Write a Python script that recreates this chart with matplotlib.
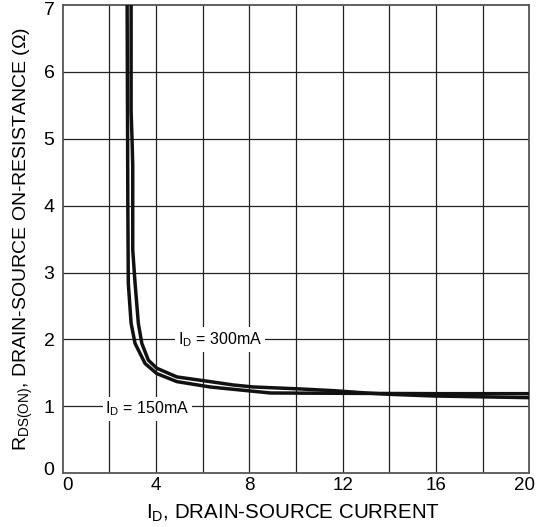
import matplotlib
matplotlib.use("Agg")
import matplotlib.pyplot as plt
from matplotlib.transforms import ScaledTranslation

plt.rcParams['font.family'] = ['Liberation Sans', 'DejaVu Sans']
plt.rcParams['mathtext.fontset'] = 'custom'
plt.rcParams['mathtext.rm'] = 'Liberation Sans'
plt.rcParams['mathtext.it'] = 'Liberation Sans:italic'

# Curve for I_D = 150mA (outer curve)
x_150 = [2.76, 2.77, 2.78, 2.79, 2.81, 2.93, 3.10, 3.53, 4.03, 4.89, 6.31, 7.6, 8.9, 12.0, 16.0, 20.0]
y_150 = [7.0, 6.0, 5.0, 4.0, 2.84, 2.24, 1.94, 1.64, 1.49, 1.37, 1.29, 1.245, 1.20, 1.195, 1.19, 1.19]

# Curve for I_D = 300mA (inner curve)
x_300 = [2.93, 2.93, 2.97, 3.00, 3.00, 3.10, 3.24, 3.39, 3.67, 4.03, 4.89, 6.31, 7.3, 8.16, 10.2, 11.6, 13.0, 14.0, 15.9, 20.0]
y_300 = [7.0, 5.4, 5.0, 4.6, 3.34, 2.84, 2.24, 1.94, 1.69, 1.57, 1.44, 1.37, 1.32, 1.29, 1.26, 1.235, 1.20, 1.18, 1.155, 1.13]

x_ticks = [0, 4, 8, 12, 16, 20]
y_ticks = [0, 1, 2, 3, 4, 5, 6, 7]
x_grid = [2, 4, 6, 8, 10, 12, 14, 16, 18]
y_grid = [1, 2, 3, 4, 5, 6]

fig = plt.figure(figsize=(5.37, 5.27), dpi=100)
ax = fig.add_axes([0.1168, 0.1019, 0.8692, 0.889])

for gx in x_grid:
    ax.axvline(gx, color='#222222', lw=0.9, zorder=1)
for gy in y_grid:
    ax.axhline(gy, color='#222222', lw=0.9, zorder=1)

ax.plot(x_150, y_150, color='#111111', lw=2.5, zorder=3, solid_capstyle='butt')
ax.plot(x_300, y_300, color='#111111', lw=2.5, zorder=3, solid_capstyle='butt')

ax.text(6.74, 2.0, r'I$_\mathrm{D}$ = 300mA', fontsize=11.5, ha='center', va='center',
        bbox=dict(facecolor='white', edgecolor='none', pad=2.0), zorder=4)
ax.text(3.63, 0.96, r'I$_\mathrm{D}$ = 150mA', fontsize=11.5, ha='center', va='center',
        bbox=dict(facecolor='white', edgecolor='none', pad=2.0), zorder=4)

ax.set_xlim(0, 20)
ax.set_ylim(0, 7)
ax.set_xticks(x_ticks)
ax.set_yticks(y_ticks)
ax.tick_params(length=0, labelsize=14)
ax.tick_params(axis='x', labelsize=13.5, pad=3)
ax.tick_params(axis='y', pad=6)
for s in ax.spines.values():
    s.set_color('#555555')
    s.set_linewidth(1.3)

# nudge the edge tick labels inward as in the reference
def nudge(label, dx, dy):
    label.set_transform(label.get_transform() + ScaledTranslation(dx / 100, dy / 100, fig.dpi_scale_trans))

xl = ax.get_xticklabels()
nudge(xl[0], 5, 0)
nudge(xl[-1], -5, 0)
yl = ax.get_yticklabels()
nudge(yl[0], 0, 5)
nudge(yl[-1], 0, -4)

ax.set_xlabel(r'I$_\mathrm{D}$, DRAIN-SOURCE CURRENT', fontsize=14.8)
ax.xaxis.set_label_coords(0.5, -0.052, transform=None)
ax.xaxis.label.set_transform(fig.transFigure)
ax.xaxis.label.set_position((0.545, 0.005))
ax.xaxis.label.set_va('bottom')
ax.set_ylabel(r'R$_\mathrm{DS(ON)}$, DRAIN-SOURCE ON-RESISTANCE ($\Omega$)', fontsize=14, labelpad=6)

fig.savefig('out.png', dpi=100)
